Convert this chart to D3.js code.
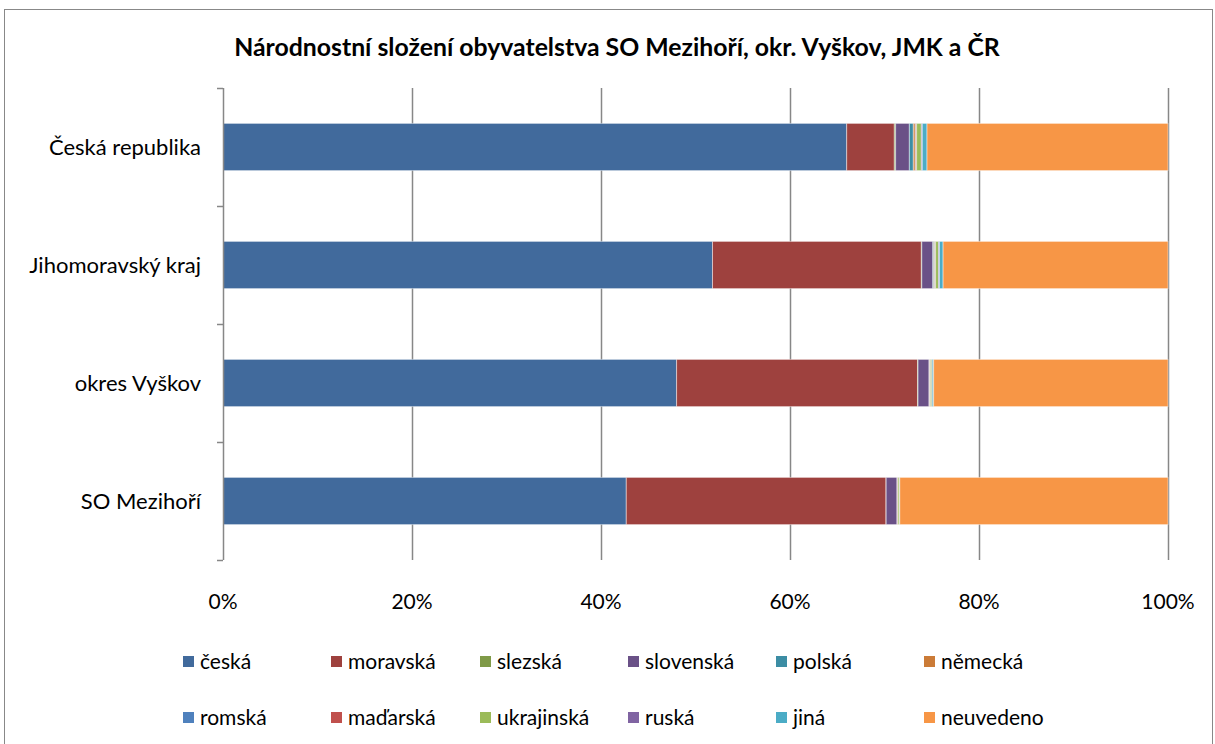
<!DOCTYPE html>
<html><head><meta charset="utf-8">
<script src="https://cdn.jsdelivr.net/npm/d3@7"></script>
<style>body{margin:0;background:#fff;} text{font-family:Lato,"Open Sans",sans-serif;}</style>
</head><body><svg id="c" width="1215" height="744"></svg>
<script>
const categories = ["Česká republika","Jihomoravský kraj","okres Vyškov","SO Mezihoří"];
const seriesNames = ["česká","moravská","slezská","slovenská","polská","německá","romská","maďarská","ukrajinská","ruská","jiná","neuvedeno"];
const seriesColors = ["#416A9C","#9E413E","#7F9A48","#6A5187","#3C8DA4","#CB7B37","#4F81BD","#C0504D","#9BBB59","#8064A2","#4BACC6","#F79646"];
// values in % per category (rows: series, cols: categories)
const ceska      = [66.0, 51.8, 48.0, 42.7];
const moravska   = [5.04, 22.1, 25.5, 27.5];
const slezska    = [0.14, 0.05, 0.05, 0.02];
const slovenska  = [1.45, 1.16, 1.16, 1.16];
const polska     = [0.42, 0.10, 0.05, 0.01];
const nemecka    = [0.20, 0.10, 0.05, 0.01];
const romska     = [0.05, 0.05, 0.02, 0.01];
const madarska   = [0.10, 0.05, 0.03, 0.05];
const ukrajinska = [0.50, 0.30, 0.15, 0.15];
const ruska      = [0.10, 0.10, 0.04, 0.01];
const jina       = [0.50, 0.39, 0.15, 0.04];
const neuvedeno  = [25.5, 23.8, 24.8, 28.4];
const ticks = ["0%","20%","40%","60%","80%","100%"];
const title = "Národnostní složení obyvatelstva SO Mezihoří, okr. Vyškov, JMK a ČR";

const seriesValues = [ceska,moravska,slezska,slovenska,polska,nemecka,romska,madarska,ukrajinska,ruska,jina,neuvedeno];
const rows = categories.map((c,i)=>{const o={cat:c}; seriesNames.forEach((s,j)=>o[s]=seriesValues[j][i]); return o;});
const stacked = d3.stack().keys(seriesNames).offset(d3.stackOffsetExpand)(rows);

const svg = d3.select("#c");
svg.append("rect").attr("x",4.5).attr("y",9.5).attr("width",1208).attr("height",740).attr("fill","#fff").attr("stroke","#888").attr("stroke-width",1);

svg.append("text").attr("x",617).attr("y",56).attr("text-anchor","middle")
  .attr("font-size",24.8).attr("font-weight","bold").attr("fill","#000").text(title);

const x = d3.scaleLinear().domain([0,1]).range([223,1168]);
const y = d3.scaleBand().domain(categories).range([88,560]).paddingInner(0.6).paddingOuter(0.3);

// gridlines
svg.append("g").selectAll("line").data(d3.range(1,6).map(i=>i/5)).join("line")
  .attr("x1",d=>x(d)+0.5).attr("x2",d=>x(d)+0.5).attr("y1",88).attr("y2",560)
  .attr("stroke","#878787").attr("stroke-width",1.5);

// bars
svg.append("g").selectAll("g").data(stacked).join("g")
  .attr("fill",(d,i)=>seriesColors[i])
  .selectAll("rect").data(d=>d).join("rect")
  .attr("x",d=>x(d[0])).attr("width",d=>Math.max(0,x(d[1])-x(d[0])))
  .attr("y",d=>y(d.data.cat)).attr("height",y.bandwidth())
  .attr("stroke","rgba(255,255,255,0.45)").attr("stroke-width",1);

// left axis
const step = y.step();
svg.append("line").attr("x1",223.5).attr("x2",223.5).attr("y1",88).attr("y2",560).attr("stroke","#878787").attr("stroke-width",1.5);
svg.append("g").selectAll("line").data(d3.range(0,5)).join("line")
  .attr("x1",217).attr("x2",223).attr("y1",d=>88+d*step+0.5).attr("y2",d=>88+d*step+0.5)
  .attr("stroke","#878787").attr("stroke-width",1.5);
svg.append("g").selectAll("text").data(categories).join("text")
  .attr("x",201).attr("y",d=>y(d)+y.bandwidth()/2).attr("dy","0.35em").attr("text-anchor","end")
  .attr("font-size",22).attr("fill","#000").text(d=>d);

// x tick labels
svg.append("g").selectAll("text").data(ticks).join("text")
  .attr("x",(d,i)=>x(i/5)).attr("y",609).attr("text-anchor","middle")
  .attr("font-size",21).attr("fill","#000").text(d=>d);

// legend
const legX = [183,331,480,628,776,924];
const legY = [662,718];
const leg = svg.append("g").selectAll("g").data(seriesNames).join("g")
  .attr("transform",(d,i)=>`translate(${legX[i%6]},${legY[Math.floor(i/6)]})`);
leg.append("rect").attr("x",0).attr("y",-6).attr("width",11).attr("height",11).attr("fill",(d,i)=>seriesColors[i]);
leg.append("text").attr("x",17).attr("y",0).attr("dy","0.35em").attr("font-size",21).attr("fill","#000").text(d=>d);
</script></body></html>
